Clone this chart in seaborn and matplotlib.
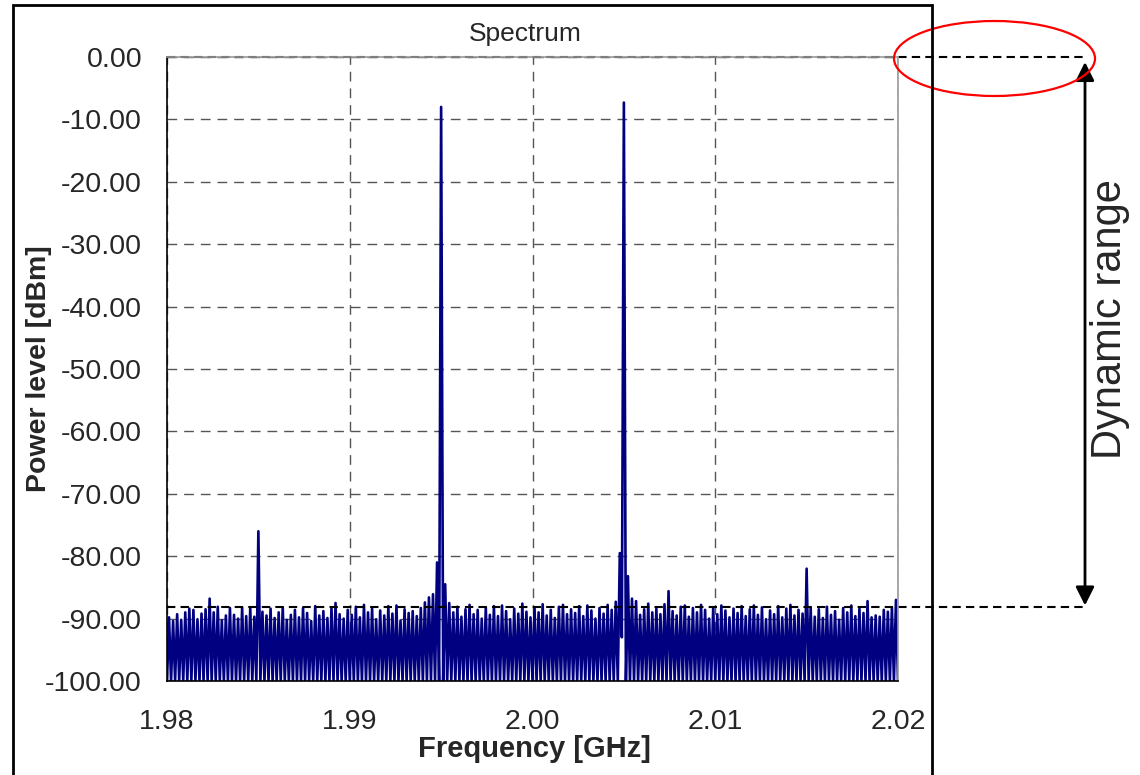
import numpy as np
import pandas as pd
import seaborn as sns
import matplotlib.pyplot as plt
from matplotlib.patches import Ellipse, Rectangle
from matplotlib.transforms import blended_transform_factory

# ---------------- DATA ----------------
f_start, f_stop, n_points = 1.98, 2.02, 361

# noise-floor tops (odd bins) incl. carriers and spurs
tops = [
    -89.8, -90.4, -89.3, -90.2, -89.0, -88.4, -88.6, -90.1, -89.2, -88.5,
    -86.8, -89.0, -88.1, -90.3, -89.5, -88.3, -89.4, -90.0, -88.2, -89.6,
    -88.3, -89.7, -76.0, -88.9, -89.5, -88.4, -89.9, -89.0, -88.2, -90.2,
    -89.4, -88.6, -89.8, -88.3, -89.1, -90.4, -88.0, -89.5, -88.8, -89.9,
    -88.2, -87.5, -89.3, -90.0, -88.6, -89.4, -88.1, -89.8, -87.8, -89.0,
    -88.4, -90.1, -88.7, -89.5, -88.0, -89.2, -87.9, -90.3, -88.5, -89.1,
    -88.8, -89.6, -88.3, -87.4, -86.6, -86.1, -81.0, -8.0, -84.5, -87.5,
    -89.0, -88.1, -89.7, -88.5, -87.8, -89.3, -88.6, -90.0, -88.2, -89.4,
    -88.0, -89.6, -87.9, -88.8, -90.1, -88.4, -89.2, -87.6, -88.9, -89.8,
    -88.2, -89.0, -87.7, -89.5, -88.6, -89.9, -88.1, -87.8, -89.3, -88.5,
    -89.1, -88.0, -89.6, -87.9, -88.7, -90.0, -88.3, -89.2, -87.8, -88.6,
    -87.3, -79.5, -7.3, -83.2, -86.8, -87.2, -89.4, -88.5, -87.6, -89.0,
    -88.4, -89.3, -87.7, -85.6, -88.8, -89.5, -88.1, -87.9, -89.7, -88.3,
    -89.0, -87.8, -88.6, -90.0, -88.2, -89.3, -87.9, -88.7, -89.8, -88.4,
    -89.1, -88.0, -89.6, -88.5, -87.9, -89.4, -88.2, -90.1, -88.7, -89.3,
    -88.0, -89.8, -88.4, -87.8, -89.5, -88.6, -89.2, -82.0, -88.3, -89.7,
    -88.5, -89.9, -88.1, -89.4, -88.8, -90.2, -88.3, -89.0, -87.9, -89.6,
    -88.4, -89.1, -87.2, -89.8, -89.5, -89.7, -88.6, -88.9, -88.2, -87.0,
]

# even bins sit on the -100 dBm display floor, one shallow dip at 2.005 GHz
floor = [-100.0] * 181
floor_exceptions = {112: -93.0}

noise_ref = -88.1   # noise level marker [dBm]

# ---------------- BUILD TRACE ----------------
level = []
for k in range(181):
    level.append(floor_exceptions.get(k, floor[k]))
    if k < 180:
        level.append(tops[k])
freq = np.linspace(f_start, f_stop, n_points)
df = pd.DataFrame({"freq": freq, "level": level})

# ---------------- PLOT ----------------
sns.set_style("white")
plt.rcParams["font.family"] = ["Liberation Sans", "DejaVu Sans"]

fig = plt.figure(figsize=(11.4, 7.75), dpi=100)
ax = fig.add_axes([167 / 1140, 1 - 681 / 775, 731 / 1140, 624 / 775])

sns.lineplot(data=df, x="freq", y="level", ax=ax, color="#000080",
             linewidth=1.9, estimator=None, sort=False)

ax.set_xlim(f_start, f_stop)
ax.set_ylim(-100, 0)
ax.set_xticks([1.98, 1.99, 2.00, 2.01, 2.02])
ax.set_yticks(np.arange(-100, 1, 10))
ax.xaxis.set_major_formatter(plt.FormatStrFormatter("%.2f"))
ax.yaxis.set_major_formatter(plt.FormatStrFormatter("%.2f"))
ax.tick_params(axis="y", direction="inout", length=12, width=1,
               labelsize=20.5, pad=12, color="black")
ax.tick_params(axis="x", direction="out", length=7, width=1,
               labelsize=20.5, pad=13, color="#666666")

ax.grid(True, color="#555555", linestyle=(0, (7, 5)), linewidth=1)
for side in ["top", "right"]:
    ax.spines[side].set_color("#999999")
    ax.spines[side].set_linewidth(1.2)
for side in ["left", "bottom"]:
    ax.spines[side].set_color("black")
    ax.spines[side].set_linewidth(1.2)

ax.set_xlabel("Frequency [GHz]", fontsize=21, fontweight="bold")
ax.set_ylabel("Power level [dBm]", fontsize=20.5, fontweight="bold")
ax.xaxis.set_label_coords(0.503, -0.087)
ax.yaxis.set_label_coords(-0.157, 0.5)
ax.set_title("Spectrum", fontsize=19, x=0.49, y=1.026, pad=0)

# ---------------- DYNAMIC RANGE ANNOTATION ----------------
tr = blended_transform_factory(ax.transAxes, ax.transData)
x_arrow = (1085 - 167) / 731
for yv in [0, noise_ref]:
    ax.plot([0, x_arrow], [yv, yv], transform=tr, color="black",
            linestyle=(0, (4.0, 2.5)), linewidth=1.5, clip_on=False)
ax.annotate("", xy=(x_arrow, -0.8), xytext=(x_arrow, noise_ref + 0.2),
            xycoords=tr, textcoords=tr,
            arrowprops=dict(arrowstyle="<|-|>", color="black", lw=2,
                            mutation_scale=28, shrinkA=0, shrinkB=0))
ax.text((1110 - 167) / 731, -42.0, "Dynamic range", transform=tr,
        rotation=90, fontsize=30, ha="center", va="center")

fig.add_artist(Ellipse((994.5 / 1140, 1 - 58.5 / 775), 201 / 1140, 75 / 775,
                       transform=fig.transFigure, fill=False,
                       edgecolor="red", linewidth=1.6))
fig.add_artist(Rectangle((13 / 1140, -0.02), (932 - 13) / 1140,
                         1 - 5 / 775 + 0.02, transform=fig.transFigure,
                         fill=False, edgecolor="black", linewidth=2))

fig.savefig("out.png", dpi=100)
